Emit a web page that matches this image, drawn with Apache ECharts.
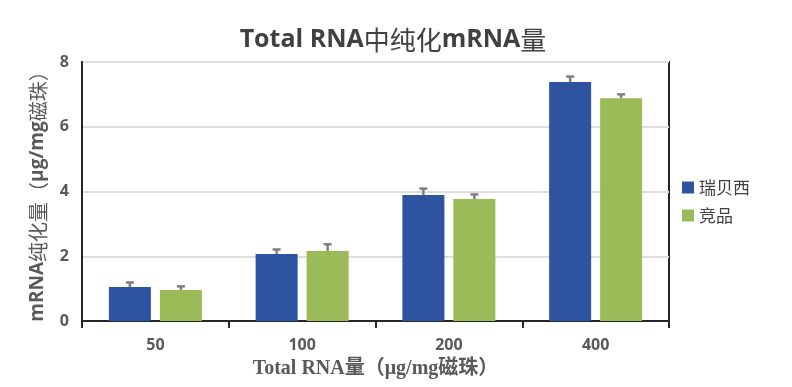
<!DOCTYPE html>
<html>
<head>
<meta charset="utf-8">
<script src="https://cdn.jsdelivr.net/npm/echarts@6/dist/echarts.min.js"></script>
<style>html,body{margin:0;padding:0;background:#fff}#c{width:792px;height:387px}</style>
</head>
<body>
<div id="c"></div>
<script>
const categories = ['50', '100', '200', '400'];
const seriesNames = ['瑞贝西', '竞品'];
const valuesA = [1.05, 2.07, 3.89, 7.38];
const valuesB = [0.96, 2.16, 3.77, 6.88];
const errorsA = [0.14, 0.14, 0.20, 0.17];
const errorsB = [0.11, 0.21, 0.14, 0.12];
const yTicks = [0, 2, 4, 6, 8];

const BLUE = '#2E54A1', GREEN = '#9BBB59';
const BAR_W = 42, BAR_GAP = 9;

function errSeries(vals, errs, dir) {
  return {
    type: 'custom',
    silent: true,
    z: 5,
    data: vals.map((v, i) => [i, v, v + errs[i]]),
    renderItem: function (params, api) {
      const i = api.value(0);
      const top = api.coord([i, api.value(1)]);
      const hi = api.coord([i, api.value(2)]);
      const x = top[0] + dir * (BAR_W / 2 + BAR_GAP / 2);
      const style = { stroke: '#7F7F7F', lineWidth: 2.5 };
      return {
        type: 'group',
        children: [
          { type: 'line', shape: { x1: x, y1: top[1], x2: x, y2: hi[1] }, style: style },
          { type: 'line', shape: { x1: x - 4, y1: hi[1], x2: x + 4, y2: hi[1] }, style: style }
        ]
      };
    }
  };
}

const chart = echarts.init(document.getElementById('c'));
chart.setOption({
  animation: false,
  title: {
    text: '{a|Total RNA}{b|中纯化}{a|mRNA}{b|量}',
    left: 388,
    textAlign: 'center',
    top: 22,
    textStyle: {
      rich: {
        a: { fontFamily: 'Open Sans', fontWeight: 'bold', fontSize: 25, color: '#404040' },
        b: { fontFamily: 'Noto Sans CJK SC', fontWeight: 'normal', fontSize: 26, color: '#404040' }
      }
    }
  },
  legend: {
    orient: 'vertical',
    left: 677,
    top: 174,
    itemWidth: 12,
    itemHeight: 12,
    itemGap: 11,
    icon: 'rect',
    data: seriesNames,
    textStyle: { fontFamily: 'Noto Sans CJK SC', fontSize: 17, color: '#404040' }
  },
  grid: {
    left: 82, right: 123, top: 62, bottom: 66,
    show: true, borderColor: '#262626', borderWidth: 2
  },
  xAxis: {
    type: 'category',
    data: categories,
    axisLine: { lineStyle: { color: '#262626', width: 2 } },
    axisTick: { show: true, length: 7, lineStyle: { color: '#262626', width: 2 } },
    axisLabel: { margin: 16, fontFamily: 'Open Sans', fontWeight: 'bold', fontSize: 16, color: '#595959' },
    name: 'Total RNA量（μg/mg磁珠）',
    nameLocation: 'middle',
    nameGap: 38,
    nameTextStyle: { fontFamily: 'Liberation Serif, Noto Sans CJK SC', fontWeight: 'bold', fontSize: 20, color: '#595959' }
  },
  yAxis: {
    type: 'value',
    min: 0, max: 8, interval: 2,
    axisLine: { show: true, lineStyle: { color: '#262626', width: 2 } },
    axisTick: { show: false },
    splitLine: { lineStyle: { color: '#DDDDDD', width: 2 } },
    axisLabel: {
      margin: 13, fontFamily: 'Open Sans', fontWeight: 'bold', fontSize: 16, color: '#595959',
      formatter: v => yTicks.includes(v) ? String(v) : ''
    },
    name: '{a|mRNA}{b|纯化量（}{a|μg/mg}{b|磁珠）}',
    nameLocation: 'middle',
    nameRotate: 90,
    nameGap: 34,
    nameTextStyle: {
      rich: {
        a: { fontFamily: 'Open Sans', fontWeight: 'bold', fontSize: 19, color: '#595959' },
        b: { fontFamily: 'Noto Sans CJK SC', fontWeight: 'normal', fontSize: 20, color: '#595959' }
      }
    }
  },
  series: [
    { name: seriesNames[0], type: 'bar', data: valuesA, barWidth: BAR_W, barGap: (BAR_GAP / BAR_W * 100) + '%', itemStyle: { color: BLUE } },
    { name: seriesNames[1], type: 'bar', data: valuesB, barWidth: BAR_W, itemStyle: { color: GREEN } },
    errSeries(valuesA, errorsA, -1),
    errSeries(valuesB, errorsB, 1)
  ]
});
</script>
</body>
</html>
